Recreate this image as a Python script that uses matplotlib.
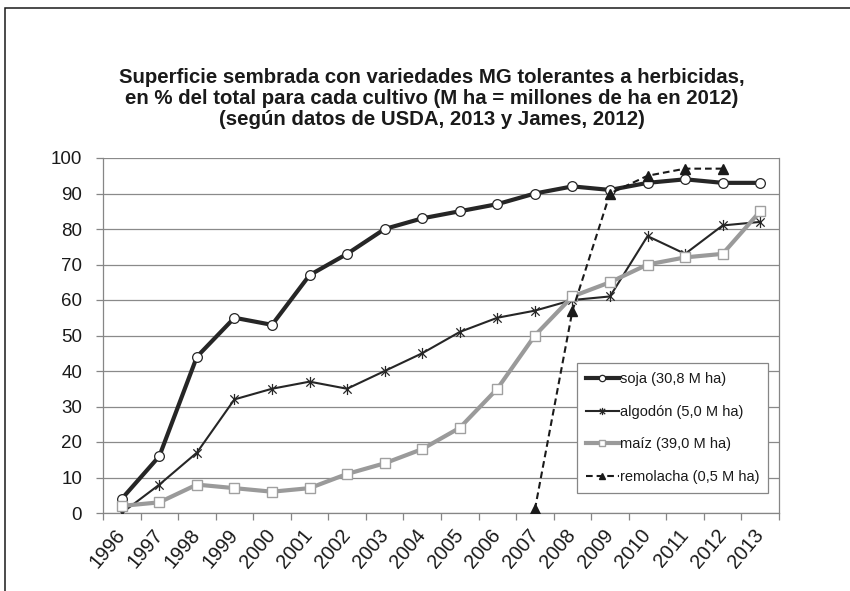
import matplotlib
matplotlib.use("Agg")
import matplotlib.pyplot as plt
from matplotlib.path import Path
from matplotlib.patches import Rectangle
import numpy as np

# Years and adoption shares (%) of herbicide-tolerant GM varieties
years = [1996, 1997, 1998, 1999, 2000, 2001, 2002, 2003, 2004,
         2005, 2006, 2007, 2008, 2009, 2010, 2011, 2012, 2013]
soja = [4, 16, 44, 55, 53, 67, 73, 80, 83, 85, 87, 90, 92, 91, 93, 94, 93, 93]
algodon = [0, 8, 17, 32, 35, 37, 35, 40, 45, 51, 55, 57, 60, 61, 78, 73, 81, 82]
maiz = [2, 3, 8, 7, 6, 7, 11, 14, 18, 24, 35, 50, 61, 65, 70, 72, 73, 85]
remolacha_years = [2007, 2008, 2009, 2010, 2011, 2012]
remolacha = [1, 57, 90, 95, 97, 97]

labels = ["soja (30,8 M ha)", "algodón (5,0 M ha)",
          "maíz (39,0 M ha)", "remolacha (0,5 M ha)"]
title = ("Superficie sembrada con variedades MG tolerantes a herbicidas,\n"
         "en % del total para cada cultivo (M ha = millones de ha en 2012)\n"
         "(según datos de USDA, 2013 y James, 2012)")

plt.rcParams['font.family'] = ['Liberation Sans', 'DejaVu Sans']

W, H = 850, 591
fig = plt.figure(figsize=(W / 100, H / 100), dpi=100)
fig.patch.set_facecolor('white')

# chart-area border
fig.add_artist(Rectangle((5 / W, -0.05), 1.1, 1 - 8 / H + 0.05,
                         transform=fig.transFigure, fill=False,
                         edgecolor='#1a1a1a', linewidth=1.1))

ax = fig.add_axes([103 / W, 1 - 513 / H, 676 / W, 355 / H])

x = np.arange(len(years))
xr = [years.index(y) for y in remolacha_years]

# asterisk marker: vertical stroke plus an X
star = Path([(0, -1), (0, 1), (-0.75, -0.75), (0.75, 0.75), (-0.75, 0.75), (0.75, -0.75)],
            [Path.MOVETO, Path.LINETO] * 3)

ax.plot(x, soja, color='#262626', lw=3.0, marker='o', ms=7.0,
        mfc='white', mec='#262626', mew=0.9, label=labels[0], zorder=3,
        solid_joinstyle='round')
ax.plot(x, algodon, color='#262626', lw=1.5, marker=star, ms=8,
        mec='#262626', mew=0.9, label=labels[1], zorder=4)
ax.plot(x, maiz, color='#9a9a9a', lw=3.0, marker='s', ms=7.5,
        mfc='white', mec='#a0a0a0', mew=1.0, label=labels[2], zorder=5,
        solid_joinstyle='round')
ax.plot(xr, remolacha, color='#1a1a1a', lw=1.5, ls=(0, (3.2, 1.9)),
        marker='^', ms=7, mfc='#1a1a1a', mec='#1a1a1a', label=labels[3], zorder=6)

ax.set_xlim(-0.5, len(years) - 0.5)
ax.set_ylim(0, 100)
ax.set_yticks(range(0, 101, 10))
ax.yaxis.grid(True, color='#8a8a8a', lw=0.9)
ax.set_axisbelow(True)

ax.set_xticks(x)
ax.set_xticklabels([str(y) for y in years])
ax.set_xticks(np.arange(-0.5, len(years), 1), minor=True)
ax.tick_params(axis='x', which='major', length=0, pad=13.5, labelsize=14.3,
               labelcolor='#1a1a1a')
ax.tick_params(axis='x', which='minor', length=5, color='#868686', width=0.9)
ax.tick_params(axis='y', which='major', length=5, color='#868686', width=0.9,
               pad=10, labelsize=13.5, labelcolor='#1a1a1a')
for lab in ax.get_xticklabels():
    lab.set_rotation(50)
    lab.set_ha('right')
    lab.set_va('center')
    lab.set_rotation_mode('anchor')

for side in ['left', 'bottom', 'right']:
    ax.spines[side].set_color('#868686')
    ax.spines[side].set_linewidth(0.9)
ax.spines['top'].set_visible(False)

leg = ax.legend(loc='upper left', bbox_to_anchor=(0.701, 0.4225),
                borderaxespad=0, fontsize=10.5, handlelength=2.26,
                handletextpad=0.07, labelspacing=1.28, borderpad=0.62,
                markerscale=0.65, fancybox=False, framealpha=1,
                edgecolor='#868686')
leg.get_frame().set_linewidth(0.9)
for t in leg.get_texts():
    t.set_color('#1a1a1a')

fig.text(432 / W, 1 - 98.5 / H, title, ha='center', va='center',
         multialignment='center', fontsize=14.7, fontweight='bold',
         linespacing=1.13, color='#1a1a1a')

fig.savefig('out.png', dpi=100)
